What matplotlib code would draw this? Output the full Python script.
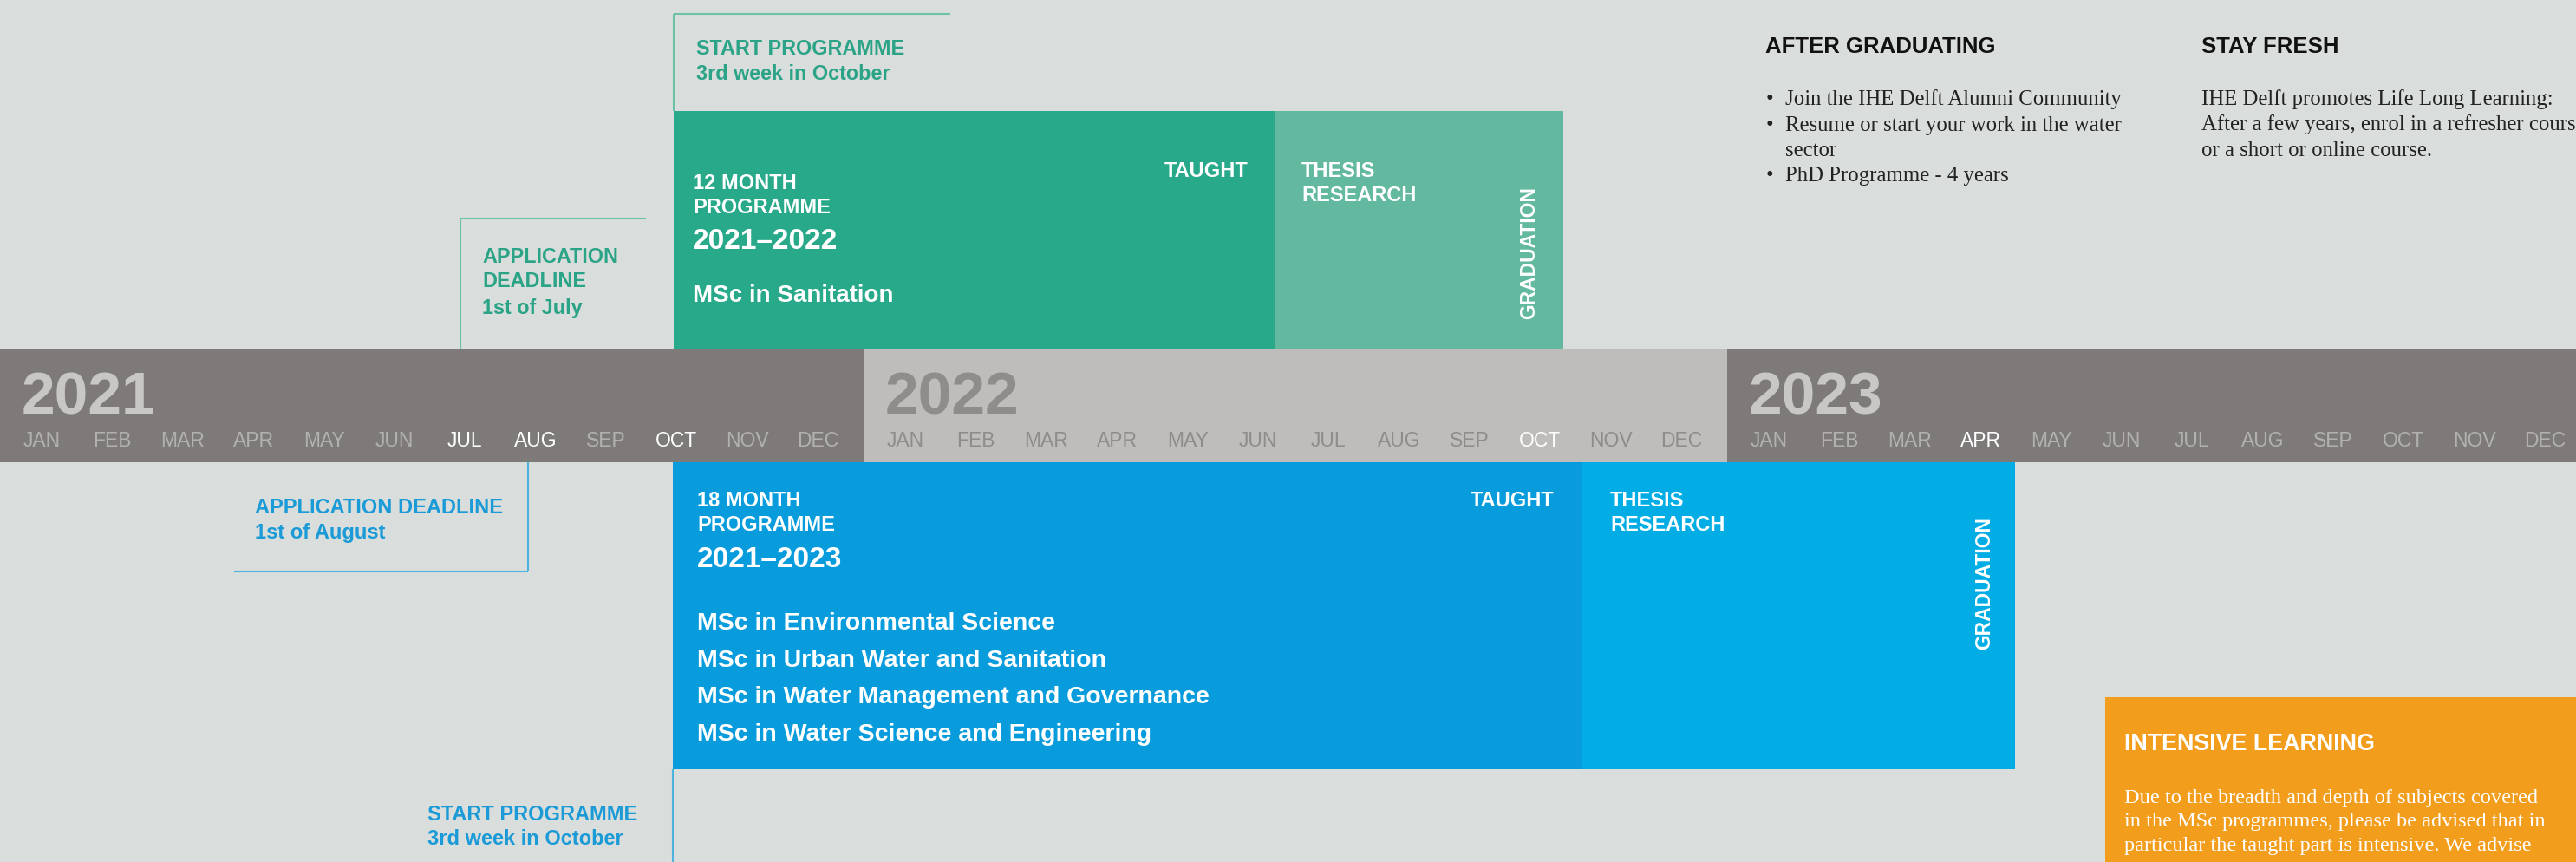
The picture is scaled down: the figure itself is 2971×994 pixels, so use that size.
import matplotlib
matplotlib.use("Agg")
import matplotlib.pyplot as plt

# ---------------- data ----------------
years = [2021, 2022, 2023]
year_start = [0, 12, 24]            # months from Jan 2021
months = ['JAN', 'FEB', 'MAR', 'APR', 'MAY', 'JUN',
          'JUL', 'AUG', 'SEP', 'OCT', 'NOV', 'DEC']
highlight = {2021: ['JUL', 'AUG', 'OCT'], 2022: ['OCT'], 2023: ['APR']}

prog_labels = ['12 MONTH\nPROGRAMME', '18 MONTH\nPROGRAMME']
prog_periods = ['2021–2022', '2021–2023']
prog_start = [9.36, 9.35]           # months from Jan 2021
taught_end = [17.71, 21.99]
prog_end = [21.72, 28.0]
msc_12 = ['MSc in Sanitation']
msc_18 = ['MSc in Environmental Science',
          'MSc in Urban Water and Sanitation',
          'MSc in Water Management and Governance',
          'MSc in Water Science and Engineering']

after_title = 'AFTER GRADUATING'
after_items = ['Join the IHE Delft Alumni Community',
               'Resume or start your work in the water\nsector',
               'PhD Programme - 4 years']
fresh_title = 'STAY FRESH'
fresh_lines = ['IHE Delft promotes Life Long Learning:',
               'After a few years, enrol in a refresher course',
               'or a short or online course.']
intensive_title = 'INTENSIVE LEARNING'
intensive_lines = ['Due to the breadth and depth of subjects covered',
                   'in the MSc programmes, please be advised that in',
                   'particular the taught part is intensive. We advise']

# ---------------- style ----------------
BG = '#D9DEDC'
BAND_DARK = '#7E7A79'
BAND_LIGHT = '#BEBDBB'
GREEN_T = '#28A98A'
GREEN_R = '#63B99F'
GREEN_TXT = '#2AA386'
GREEN_LINE = '#6CC2A8'
BLUE_T = '#089CDD'
BLUE_R = '#02ADE6'
BLUE_TXT = '#1A9AD6'
BLUE_LINE = '#4FB3E0'
ORANGE = '#F39D1C'
SANS = ['Liberation Sans', 'DejaVu Sans']
SERIF = ['Liberation Serif', 'DejaVu Serif']

W, H = 2971, 994
PX = 83.0  # pixels per month

fig = plt.figure(figsize=(W / 100, H / 100), dpi=100)
fig.patch.set_facecolor(BG)
ax = fig.add_axes([0, 0, 1, 1])
ax.set_facecolor(BG)
ax.set_xlim(0, W / PX)
ax.set_ylim(H, 0)
ax.axis('off')


def m(px):
    return px / PX


def txt(xpx, yc, s, size, color='white', weight='bold', family=SANS, ha='left', **kw):
    # yc = visual centre of capitals (pixels); place on baseline
    base = yc + 0.36 * size * 100 / 72
    ax.text(m(xpx), base, s, fontsize=size, color=color, fontweight=weight,
            family=family, ha=ha, va='baseline', **kw)


def line(x0, x1, y0, y1, color):
    ax.plot([m(x0), m(x1)], [y0, y1], color=color, lw=1.5, solid_capstyle='butt')


# ---------------- timeline band ----------------
BAND_TOP, BAND_BOT = 403, 533
for yr, ys in zip(years, year_start):
    dark = yr != 2022
    ax.barh((BAND_TOP + BAND_BOT) / 2, 12, left=ys, height=BAND_BOT - BAND_TOP,
            color=BAND_DARK if dark else BAND_LIGHT, edgecolor='none')
    ycol = '#C8C7C5' if dark else '#8E8D8B'
    mcol = '#B3B1AF' if dark else '#8E8D8B'
    ax.text(ys + 0.3, 452 + 0.36 * 50 * 100 / 72, str(yr), fontsize=50,
            fontweight='bold', color=ycol, family=SANS, ha='left', va='baseline')
    for i, mo in enumerate(months):
        c = 'white' if mo in highlight[yr] else mcol
        ax.text(ys + 0.58 + i * 0.98, 507 + 0.36 * 16.5 * 100 / 72, mo, fontsize=16.5,
                color=c, family=SANS, ha='center', va='baseline')

# ---------------- programme blocks ----------------
tops = [128, BAND_BOT]
bots = [BAND_TOP, 887]
colors_t = [GREEN_T, BLUE_T]
colors_r = [GREEN_R, BLUE_R]
for k in range(2):
    yc = (tops[k] + bots[k]) / 2
    h = bots[k] - tops[k]
    ax.barh(yc, taught_end[k] - prog_start[k], left=prog_start[k], height=h,
            color=colors_t[k], edgecolor='none')
    ax.barh(yc, prog_end[k] - taught_end[k], left=taught_end[k], height=h,
            color=colors_r[k], edgecolor='none')

# 12 month block texts
txt(799, 210, '12 MONTH', 17)
txt(799, 238, 'PROGRAMME', 17)
txt(799, 275, prog_periods[0], 24)
for i, s in enumerate(msc_12):
    txt(799, 338 + i * 42, s, 20)
ax.text(taught_end[0] - m(30), 196 + 0.36 * 17 * 100 / 72, 'TAUGHT', fontsize=17,
        color='white', fontweight='bold', family=SANS, ha='right', va='baseline')
ax.text(taught_end[0] + m(31), 195 + 0.36 * 17 * 100 / 72, 'THESIS', fontsize=17,
        color='white', fontweight='bold', family=SANS, ha='left', va='baseline')
ax.text(taught_end[0] + m(31), 224 + 0.36 * 17 * 100 / 72, 'RESEARCH', fontsize=17,
        color='white', fontweight='bold', family=SANS, ha='left', va='baseline')
ax.text(prog_end[0] - m(39), 292, 'GRADUATION', fontsize=16.5, color='white',
        fontweight='bold', family=SANS, rotation=90, ha='center', va='center')

# 18 month block texts
txt(804, 576, '18 MONTH', 17)
txt(804, 604, 'PROGRAMME', 17)
txt(804, 642, prog_periods[1], 24)
for i, s in enumerate(msc_18):
    txt(804, 716 + i * 42.5, s, 20.5)
ax.text(taught_end[1] - m(33), 576 + 0.36 * 17 * 100 / 72, 'TAUGHT', fontsize=17,
        color='white', fontweight='bold', family=SANS, ha='right', va='baseline')
ax.text(taught_end[1] + m(32), 576 + 0.36 * 17 * 100 / 72, 'THESIS', fontsize=17,
        color='white', fontweight='bold', family=SANS, ha='left', va='baseline')
ax.text(taught_end[1] + m(32), 604 + 0.36 * 17 * 100 / 72, 'RESEARCH', fontsize=17,
        color='white', fontweight='bold', family=SANS, ha='left', va='baseline')
ax.text(prog_end[1] - m(35), 673, 'GRADUATION', fontsize=16.5, color='white',
        fontweight='bold', family=SANS, rotation=90, ha='center', va='center')

# ---------------- brackets & milestone notes ----------------
# top: start programme (12 month)
line(777, 1096, 16, 16, GREEN_LINE)
line(777, 777, 16, 128, GREEN_LINE)
txt(803, 55, 'START PROGRAMME', 16.8, color=GREEN_TXT)
txt(803, 84, '3rd week in October', 16.8, color=GREEN_TXT)
# top: application deadline (12 month)
line(531, 745, 252, 252, GREEN_LINE)
line(531, 531, 252, BAND_TOP, GREEN_LINE)
txt(556, 295, 'APPLICATION', 16.8, color=GREEN_TXT)
txt(556, 323, 'DEADLINE', 16.8, color=GREEN_TXT)
txt(556, 354, '1st of July', 16.8, color=GREEN_TXT)
# bottom: application deadline (18 month)
line(609, 609, BAND_BOT, 659, BLUE_LINE)
line(270, 609, 659, 659, BLUE_LINE)
txt(294, 584, 'APPLICATION DEADLINE', 17, color=BLUE_TXT)
txt(294, 613, '1st of August', 17, color=BLUE_TXT)
# bottom: start programme (18 month)
line(776, 776, 887, H, BLUE_LINE)
txt(493, 937, 'START PROGRAMME', 17, color=BLUE_TXT)
txt(493, 966, '3rd week in October', 17, color=BLUE_TXT)

# ---------------- right-hand texts ----------------
txt(2036, 52, after_title, 18.5, color='#111111')
ybul = [112, 142, 200]
for y, s in zip(ybul, after_items):
    txt(2037, y, '•', 17.8, color='#222222', weight='normal', family=SERIF)
    parts = s.split('\n')
    for j, p in enumerate(parts):
        txt(2059, y + j * 29.5, p, 17.8, color='#222222', weight='normal', family=SERIF)

txt(2539, 52, fresh_title, 18.5, color='#111111')
for j, s in enumerate(fresh_lines):
    txt(2539, 112 + j * 29.5, s, 17.8, color='#222222', weight='normal', family=SERIF)

# ---------------- intensive learning box ----------------
ax.barh((804 + H + 10) / 2, W / PX - m(2428) + 1, left=m(2428), height=H + 10 - 804,
        color=ORANGE, edgecolor='none')
txt(2450, 855, intensive_title, 19.4)
for j, s in enumerate(intensive_lines):
    txt(2450, 917 + j * 27.5, s, 17.6, weight='normal', family=SERIF)

fig.savefig('out.png', dpi=100, facecolor=BG)
